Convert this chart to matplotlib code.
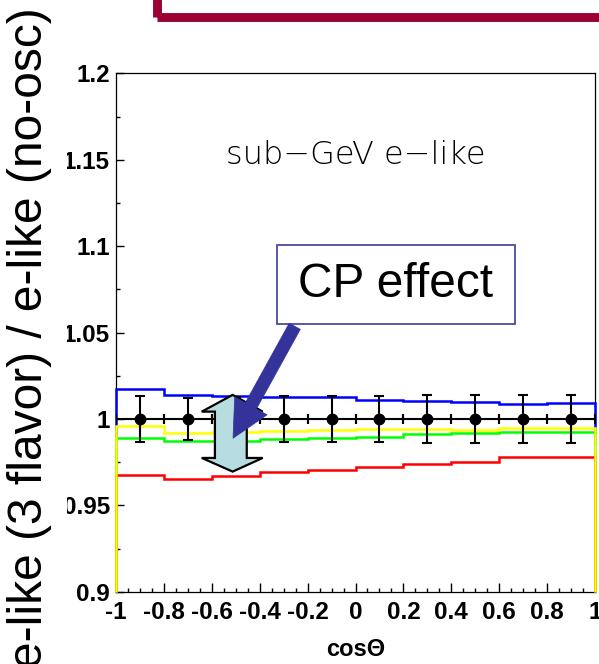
import numpy as np
import matplotlib
matplotlib.use("Agg")
import matplotlib.pyplot as plt
from matplotlib.patches import Rectangle, Polygon, FancyArrowPatch
from matplotlib.ticker import MultipleLocator, FixedLocator

# ---------------- data ----------------
bin_edges = [-1.0, -0.8, -0.6, -0.4, -0.2, 0.0, 0.2, 0.4, 0.6, 0.8, 1.0]
bin_centers = [-0.9, -0.7, -0.5, -0.3, -0.1, 0.1, 0.3, 0.5, 0.7, 0.9]
blue_vals = [1.0174, 1.0139, 1.0135, 1.0129, 1.0129, 1.0110, 1.0104, 1.0095, 1.0085, 1.0091]
green_vals = [0.9888, 0.9873, 0.9875, 0.9884, 0.9890, 0.9894, 0.9913, 0.9917, 0.9923, 0.9927]
red_vals = [0.9676, 0.9653, 0.9670, 0.9695, 0.9705, 0.9720, 0.9738, 0.9753, 0.9782, 0.9778]
yellow_vals = [0.9959, 0.9917, 0.9923, 0.9931, 0.9934, 0.9940, 0.9940, 0.9936, 0.9946, 0.9946]
data_vals = [1.0, 1.0, 1.0, 1.0, 1.0, 1.0, 1.0, 1.0, 1.0, 1.0]
data_err = [0.0135, 0.0122, 0.0125, 0.0133, 0.0135, 0.0135, 0.0137, 0.0137, 0.0138, 0.0140]
xtick_vals = [-1.0, -0.8, -0.6, -0.4, -0.2, 0.0, 0.2, 0.4, 0.6, 0.8, 1.0]
xtick_labels = ["-1", "-0.8", "-0.6", "-0.4", "-0.2", "0", "0.2", "0.4", "0.6", "0.8", "1"]
ytick_vals = [0.9, 0.95, 1.0, 1.05, 1.1, 1.15, 1.2]
ytick_labels = ["0.9", "0.95", "1", "1.05", "1.1", "1.15", "1.2"]

W, H = 599, 664
fig = plt.figure(figsize=(W / 100, H / 100), dpi=100)
fig.patch.set_facecolor("white")

ax = fig.add_axes([116 / W, 1 - 591.7 / H, 479 / W, 518.4 / H])
ax.set_xlim(-1, 1)
ax.set_ylim(0.9, 1.2)

lw = 1.8
for vals, col in [(blue_vals, "#0000ff"), (green_vals, "#00ff00"),
                  (red_vals, "#ff0000"), (yellow_vals, "#ffff00")]:
    ax.stairs(vals, bin_edges, baseline=0.9, fill=False, color=col,
              linewidth=lw, zorder=3, clip_on=False)

ax.errorbar(bin_centers, data_vals, yerr=data_err, xerr=0.1, fmt="o",
            color="black", markersize=7.5, elinewidth=1.5, capsize=3.4,
            capthick=1.5, zorder=5)

# ticks
ax.xaxis.set_major_locator(FixedLocator(xtick_vals))
ax.set_xticklabels(xtick_labels)
ax.xaxis.set_minor_locator(MultipleLocator(0.05))
ax.yaxis.set_major_locator(FixedLocator(ytick_vals))
ax.set_yticklabels(ytick_labels)
ax.yaxis.set_minor_locator(MultipleLocator(0.025))
ax.tick_params(axis="x", which="major", direction="in", length=6.5, width=1,
               pad=6.5, labelsize=17.5)
ax.tick_params(axis="x", which="minor", direction="in", length=3, width=1)
ax.tick_params(axis="y", which="major", direction="in", length=6, width=1,
               pad=4.5, labelsize=17.5)
ax.tick_params(axis="y", which="minor", direction="in", length=3.2, width=1)
for lab in ax.get_xticklabels() + ax.get_yticklabels():
    lab.set_fontfamily("Liberation Sans")
    lab.set_fontweight("bold")
for sp in ax.spines.values():
    sp.set_linewidth(0.9)

ax.set_xlabel("cosΘ", fontsize=17, fontweight="bold",
              family="Liberation Sans", labelpad=10)

# in-plot label
ax.text(0.0, 1.153, "sub\u2212GeV e\u2212like", ha="center", va="center",
        fontsize=23, family=["DejaVu Sans"], fontweight="light",
        color="black")

# CP effect box
ax.add_patch(Rectangle((-0.328, 1.055), 0.994, 0.0457, facecolor="white",
                       edgecolor="#4b4ba0", linewidth=1.3, zorder=6))
ax.text(0.169, 1.0775, "CP effect", ha="center", va="center", fontsize=34.5,
        family="Liberation Sans", zorder=7)

# double arrow
xs_l, xs_r = -0.587, -0.454
xh_l, xh_r = -0.642, -0.3875
xc = -0.513
poly = [(xc, 1.0139), (xh_r, 1.0042), (xs_r, 1.0042), (xs_r, 0.9774),
        (xh_r, 0.9774), (xc, 0.9695), (xh_l, 0.9774), (xs_l, 0.9774),
        (xs_l, 1.0042), (xh_l, 1.0042)]
ax.add_patch(Polygon(poly, closed=True, facecolor="#b7dde0",
                     edgecolor="black", linewidth=1.6, zorder=8))

# blue pointing arrow
ax.add_patch(FancyArrowPatch((-0.248, 1.0550), (-0.517, 0.9874),
                             arrowstyle="simple,head_width=1.9,head_length=1.9,tail_width=0.65",
                             mutation_scale=14, facecolor="#333399",
                             edgecolor="#333399", linewidth=0.5, zorder=9))

# white mask over left of y tick labels
fig.add_artist(Rectangle((0, 0), 67 / W, 1, transform=fig.transFigure,
                         facecolor="white", edgecolor="none", zorder=4))
fig.text(30 / W, 1 - 338 / H, "e-like (3 flavor) / e-like (no-osc)",
         rotation=90, ha="center", va="center", fontsize=34.5,
         family="Liberation Sans", zorder=5)

# dark red frame at top
fig.add_artist(Rectangle((156.5 / W, 1 - 16.5 / H), 1.0, 0.2,
                         transform=fig.transFigure, facecolor="none",
                         edgecolor="#9b0034", linewidth=6.4, zorder=5,
                         clip_on=False))

fig.savefig("out.png", dpi=100)
